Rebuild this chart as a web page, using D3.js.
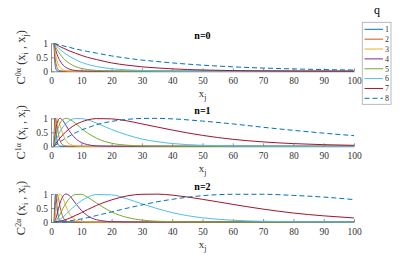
<!DOCTYPE html>
<html lang="en">
<head>
    <meta charset="UTF-8">
    <title>C^n alpha curves</title>
    <style>
        body { margin: 0; background: #fff; }
        svg, svg text { font-family: "Liberation Serif", "Times New Roman", serif !important; }
        svg { display: block; }
    </style>
    <script src="https://d3js.org/d3.v7.min.js"></script>
</head>
<body>
    <div id="chart"></div>
    <script>
        // x_j sample positions
        const xj = [1, 1.25, 1.5, 2, 2.5, 3, 4, 5, 6, 8, 10, 12, 15, 20, 25, 30, 35, 40, 50, 60, 70, 80, 90, 100];

        const qLabels = ["1", "2", "3", "4", "5", "6", "7", "8"];
        const xTicks = [0, 10, 20, 30, 40, 50, 60, 70, 80, 90, 100];
        const yTicks = [0, 0.5, 1];
        const nLabels = ["0", "1", "2"];

        // n = 0, one row per q
        const c0 = [
            [1, .37, .135, .018, .003, 0, 0, 0, 0, 0, 0, 0, 0, 0, 0, 0, 0, 0, 0, 0, 0, 0, 0, 0],
            [1, .61, .37, .135, .05, .018, .003, 0, 0, 0, 0, 0, 0, 0, 0, 0, 0, 0, 0, 0, 0, 0, 0, 0],
            [1, .78, .61, .37, .22, .135, .05, .018, .007, .001, 0, 0, 0, 0, 0, 0, 0, 0, 0, 0, 0, 0, 0, 0],
            [1, .88, .78, .61, .47, .37, .22, .135, .08, .03, .011, .004, .001, 0, 0, 0, 0, 0, 0, 0, 0, 0, 0, 0],
            [1, .94, .88, .78, .69, .61, .47, .37, .29, .17, .105, .064, .03, .009, .003, .001, 0, 0, 0, 0, 0, 0, 0, 0],
            [1, .97, .94, .88, .83, .78, .69, .61, .54, .42, .32, .25, .17, .093, .05, .027, .014, .008, .002, .001, 0, 0, 0, 0],
            [1, .98, .97, .94, .91, .88, .83, .78, .73, .65, .57, .50, .42, .30, .22, .16, .12, .087, .047, .025, .013, .007, .004, .002],
            [1, .99, .98, .97, .95, .94, .91, .88, .86, .80, .755, .71, .65, .55, .47, .40, .35, .30, .22, .16, .116, .085, .062, .045]
        ];

        // n = 1
        const c1 = [
            [0, 1, .74, .2, .04, .007, 0, 0, 0, 0, 0, 0, 0, 0, 0, 0, 0, 0, 0, 0, 0, 0, 0, 0],
            [0, .82, 1, .74, .41, .2, .04, .007, .001, 0, 0, 0, 0, 0, 0, 0, 0, 0, 0, 0, 0, 0, 0, 0],
            [0, .53, .82, 1, .91, .74, .41, .2, .09, .017, .003, 0, 0, 0, 0, 0, 0, 0, 0, 0, 0, 0, 0, 0],
            [0, .30, .53, .82, .96, 1, .91, .74, .56, .29, .136, .061, .017, .002, 0, 0, 0, 0, 0, 0, 0, 0, 0, 0],
            [0, .16, .30, .53, .70, .82, .96, 1, .97, .83, .64, .48, .29, .11, .04, .014, .005, .002, 0, 0, 0, 0, 0, 0],
            [0, .082, .16, .30, .42, .53, .70, .82, .91, .99, .99, .95, .83, .60, .41, .26, .165, .10, .036, .013, .004, .001, 0, 0],
            [0, .042, .082, .16, .23, .30, .42, .53, .62, .77, .87, .94, .99, .98, .91, .80, .69, .58, .39, .25, .157, .096, .058, .035],
            [0, .021, .042, .082, .12, .16, .23, .30, .36, .48, .58, .66, .77, .89, .96, .995, .998, .98, .90, .80, .68, .57, .47, .38]
        ];

        // n = 2
        const c2 = [
            [0, .68, 1, .54, .165, .04, .002, 0, 0, 0, 0, 0, 0, 0, 0, 0, 0, 0, 0, 0, 0, 0, 0, 0],
            [0, .28, .68, 1, .83, .54, .165, .04, .008, 0, 0, 0, 0, 0, 0, 0, 0, 0, 0, 0, 0, 0, 0, 0],
            [0, .09, .28, .68, .93, 1, .83, .54, .31, .083, .018, .004, 0, 0, 0, 0, 0, 0, 0, 0, 0, 0, 0, 0],
            [0, .026, .09, .28, .49, .68, .93, 1, .95, .68, .42, .23, .083, .013, .002, 0, 0, 0, 0, 0, 0, 0, 0, 0],
            [0, .007, .026, .09, .18, .28, .49, .68, .83, .98, .99, .89, .68, .36, .165, .069, .027, .010, .001, 0, 0, 0, 0, 0],
            [0, .002, .007, .026, .054, .09, .18, .28, .39, .59, .76, .88, .98, .97, .83, .65, .48, .335, .15, .063, .025, .009, .003, .001],
            [0, 0, .002, .007, .015, .026, .054, .09, .13, .23, .33, .44, .59, .79, .93, .99, .996, .96, .81, .63, .46, .32, .22, .145],
            [0, 0, 0, .002, .004, .007, .015, .026, .039, .072, .11, .155, .23, .36, .49, .61, .72, .81, .94, .99, .99, .95, .89, .80]
        ];

        const panels = [c0, c1, c2];
        const colors = ["#0072BD", "#D95319", "#EDB120", "#7E2F8E", "#77AC30", "#4DBEEE", "#A2142F", "#0072BD"];
        const dashed = [false, false, false, false, false, false, false, true];

        const width = 400, height = 268;
        const svg = d3.select("#chart").append("svg")
            .attr("width", width)
            .attr("height", height);

        const x = d3.scaleLinear().domain([0, 100]).range([51, 354]);
        const tops = [43.3, 118.3, 194];
        const ph = 28;
        const axisColor = "#777";

        panels.forEach((series, i) => {
            const top = tops[i];
            const y = d3.scaleLinear().domain([0, 1]).range([top + ph, top]);
            const g = svg.append("g");

            // x axis
            const xa = g.append("g")
                .attr("transform", `translate(0,${top + ph})`)
                .call(d3.axisBottom(x).tickValues(xTicks).tickSizeInner(-3).tickSizeOuter(0));
            xa.selectAll("text").attr("y", 13).attr("dy", 0);

            // y axis
            const ya = g.append("g")
                .attr("transform", `translate(${x(0)},0)`)
                .call(d3.axisLeft(y).tickValues(yTicks).tickSizeInner(-3).tickSizeOuter(0).tickPadding(3).tickFormat(d => d));

            [xa, ya].forEach(a => {
                a.attr("font-family", null);
                a.select(".domain").attr("stroke", axisColor).attr("stroke-width", 0.8);
                a.selectAll(".tick line").attr("stroke", axisColor).attr("stroke-width", 0.8);
                a.selectAll("text")
                    .attr("fill", "#333")
                    .style("font-size", "9.5px");
            });

            // curves
            const line = d3.line()
                .x((d, k) => x(xj[k]))
                .y(d => y(d))
                .curve(d3.curveMonotoneX);

            g.append("g").selectAll("path")
                .data(series)
                .join("path")
                .attr("d", d => line(d))
                .attr("fill", "none")
                .attr("stroke", (d, k) => colors[k])
                .attr("stroke-width", 1)
                .attr("stroke-dasharray", (d, k) => dashed[k] ? "5,3" : null);

            // title
            g.append("text")
                .attr("x", 202.5)
                .attr("y", top - 4.5)
                .attr("text-anchor", "middle")
                .style("font-size", "10px")
                .style("font-weight", "bold")
                .text("n=" + nLabels[i]);

            // x label
            const xl = g.append("text")
                .attr("x", 202.5)
                .attr("y", top + ph + 26)
                .attr("text-anchor", "middle")
                .style("font-size", "11px")
                .attr("fill", "#333");
            xl.append("tspan").text("x");
            xl.append("tspan").attr("dy", 3).style("font-size", "8px").text("j");

            // y label
            const yl = g.append("text")
                .attr("transform", `translate(25,${top + ph / 2}) rotate(-90)`)
                .attr("text-anchor", "middle")
                .style("font-size", "12.5px")
                .attr("fill", "#333");
            yl.append("tspan").text("C");
            yl.append("tspan").attr("dy", -4.5).style("font-size", "8px").text(nLabels[i] + "\u03b1");
            yl.append("tspan").attr("dy", 4.5).text(" (x");
            yl.append("tspan").attr("dy", 3).style("font-size", "8px").text("i");
            yl.append("tspan").attr("dy", -3).text(" , x");
            yl.append("tspan").attr("dy", 3).style("font-size", "8px").text("j");
            yl.append("tspan").attr("dy", -3).text(")");
        });

        // legend
        const lg = svg.append("g");
        lg.append("text")
            .attr("x", 377)
            .attr("y", 14)
            .attr("text-anchor", "middle")
            .style("font-size", "12px")
            .text("q");
        lg.append("rect")
            .attr("x", 362.3).attr("y", 22.3)
            .attr("width", 28.7).attr("height", 82)
            .attr("fill", "#fff")
            .attr("stroke", "#aaa")
            .attr("stroke-width", 0.8);
        qLabels.forEach((q, k) => {
            const ly = 29.3 + k * 9.86;
            lg.append("line")
                .attr("x1", 364.5).attr("x2", 383)
                .attr("y1", ly).attr("y2", ly)
                .attr("stroke", colors[k])
                .attr("stroke-width", 1)
                .attr("stroke-dasharray", dashed[k] ? "5,3" : null);
            lg.append("text")
                .attr("x", 385)
                .attr("y", ly)
                .attr("dy", "0.35em")
                .style("font-size", "8px")
                .attr("fill", "#333")
                .text(q);
        });
    </script>
</body>
</html>
